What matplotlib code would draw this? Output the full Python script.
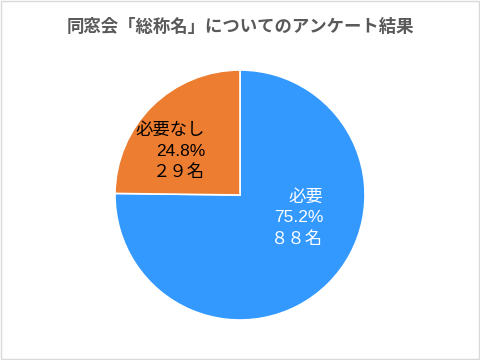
import matplotlib.pyplot as plt
from matplotlib.patches import Rectangle

plt.rcParams['font.family'] = ['Noto Sans CJK JP', 'DejaVu Sans']

# data
categories = ['必要', '必要なし']
percents = [75.2, 24.8]
counts_text = ['８８名', '２９名']
colors = ['#3399FF', '#ED7D31']
title = '同窓会「総称名」についてのアンケート結果'

fig = plt.figure(figsize=(4.8, 3.6), dpi=100)
fig.patches.append(Rectangle((0.002, 0.003), 0.996, 0.994, transform=fig.transFigure,
                             fill=False, edgecolor='#d9d9d9', linewidth=1))

ax = fig.add_axes([115 / 480, 40 / 360, 250 / 480, 250 / 360])
ax.pie(percents, colors=colors, startangle=90, counterclock=False,
       wedgeprops=dict(edgecolor='white', linewidth=1.2))
ax.set_xlim(-1, 1)
ax.set_ylim(-1, 1)
ax.set_aspect('equal')
ax.axis('off')

# labels
label_pos = [(0.665, 0.05), (-0.28, 0.58)]
text_colors = ['white', 'black']
for cat, pct, cnt, (x, y), tc in zip(categories, percents, counts_text, label_pos, text_colors):
    ax.text(x, y, f'{cat}\n{pct:.1f}%\n{cnt}', ha='right', va='top', multialignment='right',
            fontsize=12.5, color=tc, linespacing=1.45,
            family=['Liberation Sans', 'Noto Sans CJK JP'])

fig.text(0.5, 0.925, title, ha='center', va='center', fontsize=12.5,
         fontweight='bold', color='#595959')

fig.savefig('out.png', dpi=100)
